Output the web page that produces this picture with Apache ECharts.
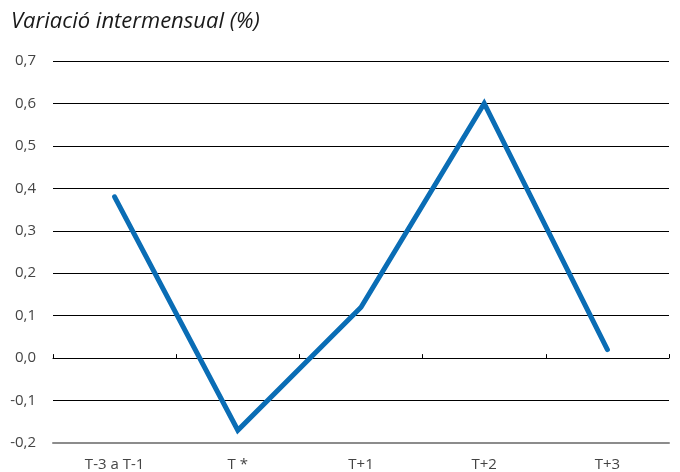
<!DOCTYPE html>
<html><head><meta charset="utf-8">
<script src="https://cdn.jsdelivr.net/npm/echarts@6/dist/echarts.min.js"></script>
<style>html,body{margin:0;padding:0;background:#fff}#c{width:680px;height:472px}</style>
</head><body><div id="c"></div>
<script>
const categories = ['T-3 a T-1', 'T *', 'T+1', 'T+2', 'T+3'];
const values = [0.38, -0.17, 0.12, 0.60, 0.02];
const titleText = 'Variació intermensual (%)';
const yMin = -0.2, yMax = 0.7, yStep = 0.1;

const font = '"Open Sans", "Noto Sans", sans-serif';
const chart = echarts.init(document.getElementById('c'), null, {renderer: 'canvas'});
chart.setOption({
  animation: false,
  backgroundColor: '#fff',
  title: {
    text: titleText, left: 6, top: 6,
    textStyle: {fontFamily: font, fontStyle: 'italic', fontWeight: 'normal', fontSize: 22, color: '#1a1a1a'}
  },
  grid: {left: 53, right: 11, top: 61, bottom: 29, containLabel: false},
  xAxis: [
    {
      type: 'category', data: categories, position: 'bottom', boundaryGap: true,
      axisLine: {show: true, onZero: false, lineStyle: {color: '#8c8c8c', width: 2}},
      axisTick: {show: false},
      axisLabel: {margin: 14, fontFamily: font, fontSize: 15, color: '#444'},
      splitLine: {show: false}
    },
    {
      type: 'category', data: categories, position: 'top', boundaryGap: true,
      axisLine: {show: true, onZero: true, lineStyle: {color: '#000', width: 1}},
      axisTick: {show: true, inside: false, length: 4, alignWithLabel: false, lineStyle: {color: '#000'}},
      axisLabel: {show: false},
      splitLine: {show: false}
    }
  ],
  yAxis: {
    type: 'value', min: yMin, max: yMax, interval: yStep,
    axisLine: {show: false}, axisTick: {show: false},
    axisLabel: {
      margin: 17, fontFamily: font, fontSize: 15, color: '#444',
      formatter: v => v.toFixed(1).replace('.', ',')
    },
    splitLine: {show: true, lineStyle: {color: ['transparent', '#000', '#000', '#000', '#000', '#000', '#000', '#000', '#000', '#000'], width: 1}}
  },
  series: [{
    type: 'line', data: values, xAxisIndex: 0,
    symbol: 'none', smooth: false,
    lineStyle: {color: '#0a6db5', width: 5, cap: 'round', join: 'miter'}
  }]
});
</script></body></html>
